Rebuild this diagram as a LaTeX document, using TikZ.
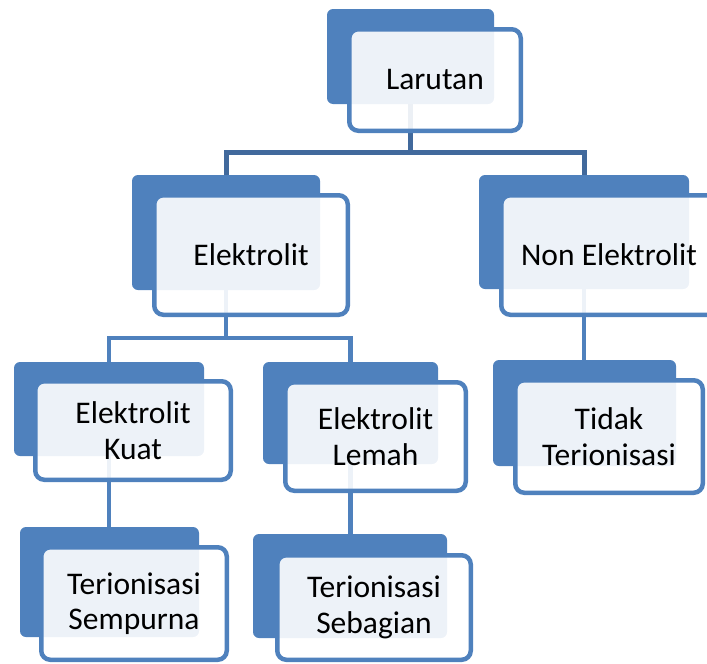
\documentclass[tikz,border=0pt]{standalone}
\usepackage{fontspec}
\setmainfont{Carlito}
\definecolor{accent}{HTML}{4F81BD}
\definecolor{busdark}{HTML}{41699C}
\begin{document}
\begin{tikzpicture}[x=1pt,y=-1pt,
  back/.style={fill=accent,draw=none,rounded corners=6pt,inner sep=0pt},
  front/.style={fill=white,fill opacity=0.9,text opacity=1,draw=accent,draw opacity=1,
    line width=4.5pt,rounded corners=9pt,inner sep=0pt,align=center,
    font=\fontsize{31.5}{35.5}\selectfont},
  busA/.style={draw=busdark,line width=5pt},
  busB/.style={draw=accent,line width=4.5pt}]
\useasboundingbox (0,0) rectangle (707,664);
% back boxes
\node[back,minimum width=167pt,minimum height=95pt] (Ld) at (410.5,56.5) {};
\node[back,minimum width=188pt,minimum height=115pt] (Ed) at (226,232.5) {};
\node[back,minimum width=210pt,minimum height=114pt] (Nd) at (584,232) {};
\node[back,minimum width=190pt,minimum height=94pt] (Kd) at (109,409) {};
\node[back,minimum width=175pt,minimum height=102pt] (Led) at (350.5,413) {};
\node[back,minimum width=183pt,minimum height=106pt] (Td) at (584.5,413) {};
\node[back,minimum width=179pt,minimum height=110pt] (Sd) at (109.5,582) {};
\node[back,minimum width=194pt,minimum height=104pt] (Sbd) at (350,586) {};
% connectors
\coordinate (busone) at (0,152);
\coordinate (bustwo) at (0,338);
\draw[busA] (Ld.south) -- (Ld.south |- busone) -| (Ed.north);
\draw[busA] (Ld.south |- busone) -| (Nd.north);
\draw[busB] (Ed.south) -- (Ed.south |- bustwo) -| (Kd.north);
\draw[busB] (Ed.south |- bustwo) -| (Led.north);
\draw[busB] (Nd.south) -- (Nd.south |- Td.north);
\draw[busB] (Kd.south) -- (Kd.south |- Sd.north);
\draw[busB] (Led.south) -- (Led.south |- Sbd.north);
% front boxes
\node[front,minimum width=171.5pt,minimum height=101.5pt] (L) at (435,80) {Larutan};
\node[front,minimum width=193.5pt,minimum height=119.5pt] (E) at (251,255) {Elektrolit};
\node[front,minimum width=215.5pt,minimum height=119.5pt] (N) at (609,255) {Non Elektrolit};
\node[front,minimum width=195.5pt,minimum height=98.5pt] (K) at (133,430.5) {Elektrolit\\Kuat};
\node[front,minimum width=180.5pt,minimum height=108.5pt] (Le) at (375.5,436.5) {Elektrolit\\Lemah};
\node[front,minimum width=187.5pt,minimum height=112.5pt] (T) at (609,436.5) {Tidak\\Terionisasi};
\node[front,minimum width=185.5pt,minimum height=112.5pt] (S) at (134,603.5) {Terionisasi\\Sempurna};
\node[front,minimum width=193.5pt,minimum height=104.5pt] (Sb) at (374,607.5) {Terionisasi\\Sebagian};
\end{tikzpicture}
\end{document}
